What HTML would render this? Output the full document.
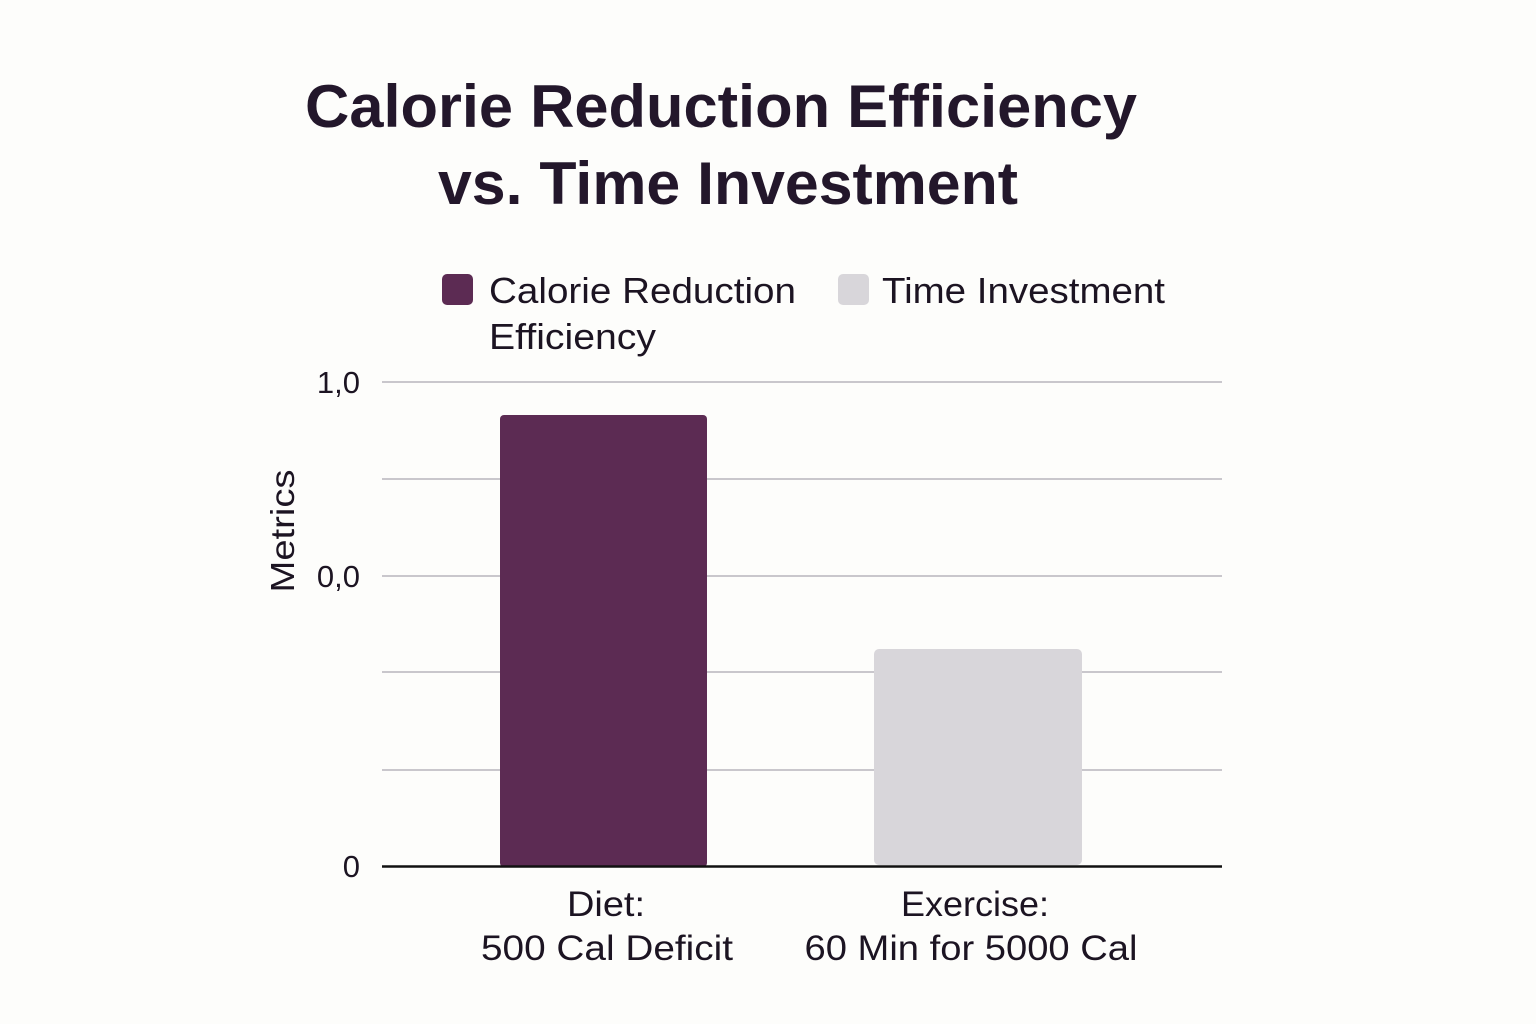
<!DOCTYPE html>
<html><head><meta charset="utf-8"><style>
html,body{margin:0;padding:0;background:#fdfdfb;}
svg{display:block;font-family:"Liberation Sans",sans-serif;}
</style></head><body>
<svg width="1536" height="1024" viewBox="0 0 1536 1024">
<rect width="1536" height="1024" fill="#fdfdfb"/>
<g fill="#23172b" font-weight="bold" font-size="60">
<text x="305" y="127" textLength="832" lengthAdjust="spacingAndGlyphs">Calorie Reduction Efficiency</text>
<text x="438" y="204" textLength="580" lengthAdjust="spacingAndGlyphs">vs. Time Investment</text>
</g>
<rect x="442" y="274" width="31" height="31" rx="5" fill="#5c2b53"/>
<rect x="838" y="274" width="31" height="31" rx="5" fill="#d8d6da"/>
<g fill="#1c1422" font-size="36">
<text x="489" y="303" textLength="307" lengthAdjust="spacingAndGlyphs">Calorie Reduction</text>
<text x="489" y="349" textLength="167" lengthAdjust="spacingAndGlyphs">Efficiency</text>
<text x="882" y="303" textLength="283" lengthAdjust="spacingAndGlyphs">Time Investment</text>
</g>
<g stroke="#c9c7cc" stroke-width="2">
<line x1="382" y1="382" x2="1222" y2="382"/>
<line x1="382" y1="479" x2="1222" y2="479"/>
<line x1="382" y1="576" x2="1222" y2="576"/>
<line x1="382" y1="672" x2="1222" y2="672"/>
<line x1="382" y1="770" x2="1222" y2="770"/>
</g>
<rect x="500" y="415" width="207" height="452" rx="4" fill="#5c2b53"/>
<rect x="874" y="649" width="208" height="216" rx="5" fill="#d8d6da"/>
<line x1="382" y1="866.5" x2="1222" y2="866.5" stroke="#111" stroke-width="2.5"/>
<g fill="#1c1422" font-size="31" text-anchor="end">
<text x="360" y="393">1,0</text>
<text x="360" y="587">0,0</text>
<text x="360" y="877">0</text>
</g>
<text transform="translate(294,531) rotate(-90)" text-anchor="middle" font-size="33" fill="#1c1422" textLength="123" lengthAdjust="spacingAndGlyphs">Metrics</text>
<g fill="#1c1422" font-size="35" text-anchor="middle">
<text x="606" y="916" textLength="78" lengthAdjust="spacingAndGlyphs">Diet:</text>
<text x="607" y="960" textLength="252" lengthAdjust="spacingAndGlyphs">500 Cal Deficit</text>
<text x="975" y="916" textLength="148" lengthAdjust="spacingAndGlyphs">Exercise:</text>
<text x="971" y="960" textLength="333" lengthAdjust="spacingAndGlyphs">60 Min for 5000 Cal</text>
</g>
</svg>
</body></html>
